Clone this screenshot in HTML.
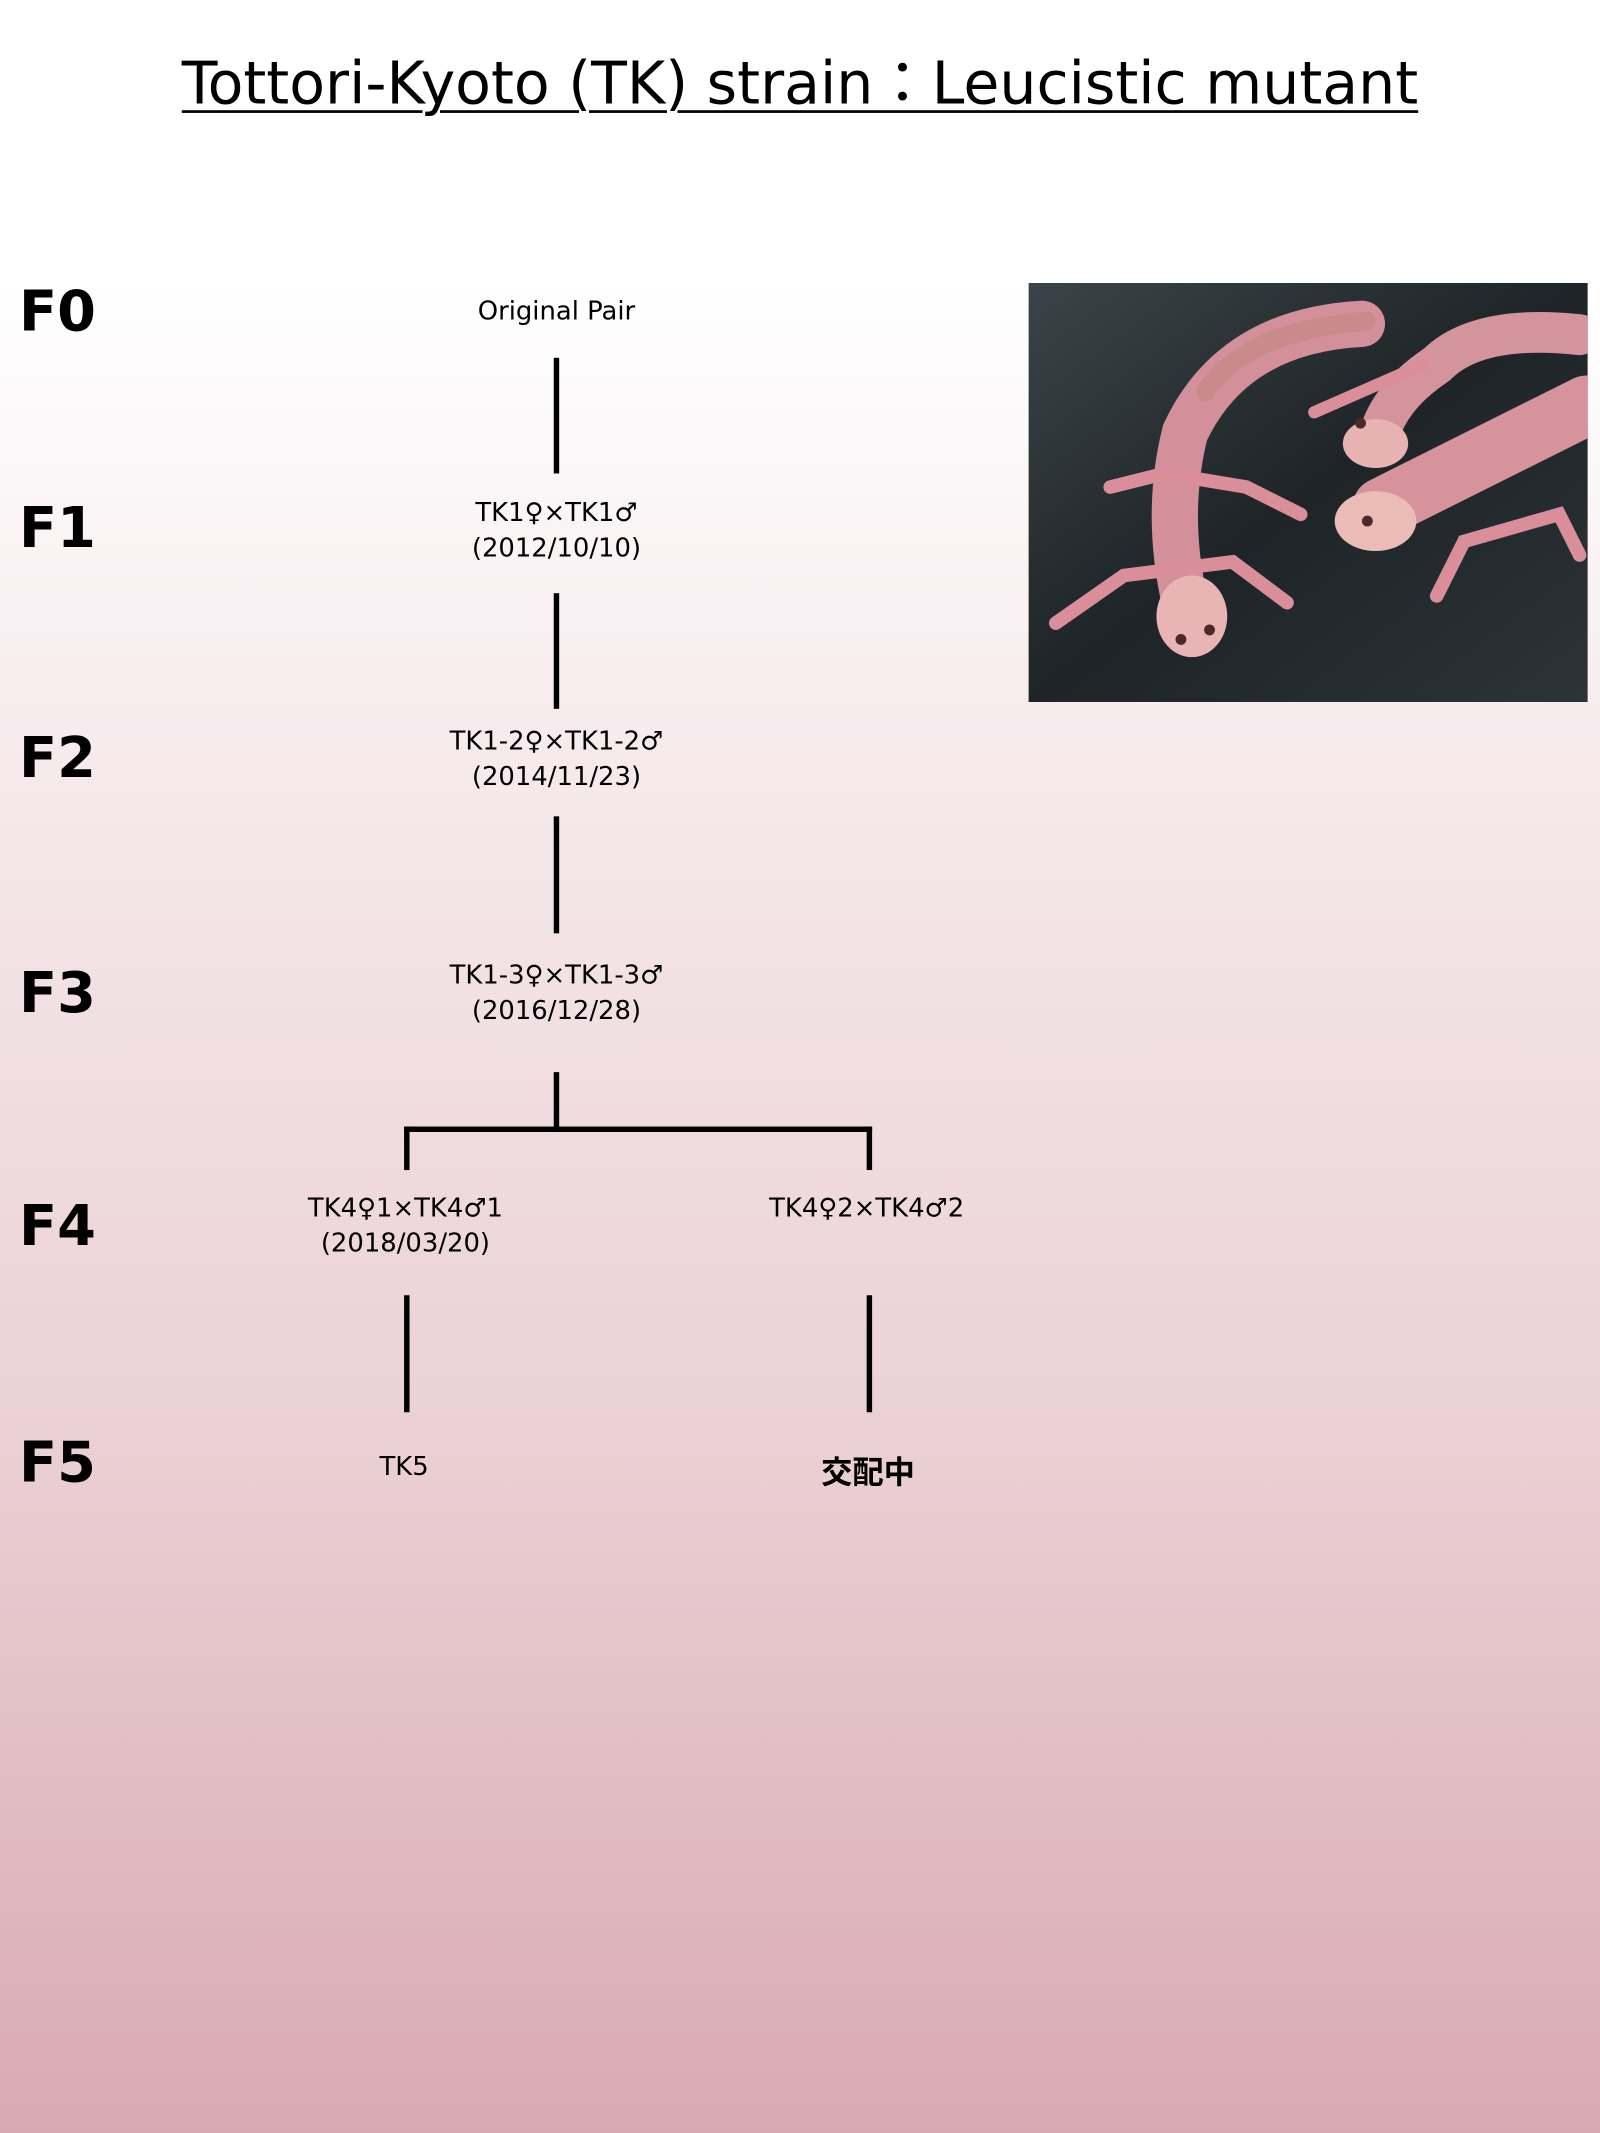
<!DOCTYPE html>
<html><head><meta charset="utf-8"><style>
html,body{margin:0;padding:0;}
body{width:1600px;height:2133px;overflow:hidden;background:linear-gradient(to bottom,#ffffff 0px,#ffffff 280px,#f3e4e7 900px,#ebd2d6 1400px,#d9a9b2 2133px);}
#w{position:absolute;left:0;top:0;width:1176px;height:1568px;transform:scale(1.36054);transform-origin:0 0;font-family:"DejaVu Sans","Liberation Sans","Noto Sans CJK JP",sans-serif;color:#000;}
.t{position:absolute;white-space:nowrap;transform:translate(-50%,-50%);text-align:center;font-size:19px;line-height:26px;}
.f{position:absolute;left:14px;font-weight:bold;font-size:41px;transform:translateY(-50%);font-family:"DejaVu Sans",sans-serif;}
.v{position:absolute;width:4px;background:#000;}
.h{position:absolute;height:4px;background:#000;}
</style></head><body><div id="w">
<div style="position:absolute;left:0;width:1176px;top:27px;text-align:center;"><span style="font-size:43px;text-decoration:underline;text-decoration-thickness:2px;text-underline-offset:5px;margin-left:0px;">Tottori-Kyoto (TK) strain：Leucistic mutant</span></div>
<div class="f" style="top:229px">F0</div>
<div class="f" style="top:388px">F1</div>
<div class="f" style="top:557px">F2</div>
<div class="f" style="top:730px">F3</div>
<div class="f" style="top:901px">F4</div>
<div class="f" style="top:1075px">F5</div>
<div class="t" style="left:409px;top:229px">Original Pair</div>
<div class="t" style="left:409px;top:390px">TK1♀×TK1♂<br>(2012/10/10)</div>
<div class="t" style="left:409px;top:558px">TK1-2♀×TK1-2♂<br>(2014/11/23)</div>
<div class="t" style="left:409px;top:730px">TK1-3♀×TK1-3♂<br>(2016/12/28)</div>
<div class="t" style="left:298px;top:901px">TK4♀1×TK4♂1<br>(2018/03/20)</div>
<div class="t" style="left:637px;top:888px">TK4♀2×TK4♂2</div>
<div class="t" style="left:297px;top:1078px">TK5</div>
<div class="t" style="left:638px;top:1083px;font-weight:bold;font-size:23px;">交配中</div>
<div class="v" style="left:407px;top:263px;height:85px"></div>
<div class="v" style="left:407px;top:436px;height:85px"></div>
<div class="v" style="left:407px;top:600px;height:86px"></div>
<div class="v" style="left:407px;top:788px;height:44px"></div>
<div class="h" style="left:297px;top:828px;width:344px"></div>
<div class="v" style="left:297px;top:828px;height:32px"></div>
<div class="v" style="left:637px;top:828px;height:32px"></div>
<div class="v" style="left:297px;top:952px;height:86px"></div>
<div class="v" style="left:637px;top:952px;height:86px"></div>
<svg style="position:absolute;left:756px;top:208px" width="411" height="308" viewBox="0 0 411 308">
<defs><linearGradient id="bg" x1="0" y1="0" x2="1" y2="1"><stop offset="0" stop-color="#3a4449"/><stop offset="0.5" stop-color="#1e2427"/><stop offset="1" stop-color="#2c3438"/></linearGradient></defs>
<rect width="411" height="308" fill="url(#bg)"/>
<g fill="none" stroke-linecap="round">
<path d="M245 30 Q150 35 115 110 Q100 170 115 235" stroke="#d4909a" stroke-width="34"/>
<path d="M248 28 Q160 35 130 80" stroke="#c98a8c" stroke-width="14"/>
<path d="M60 150 L100 140 L160 150 L200 170" stroke="#d98e9a" stroke-width="10"/>
<path d="M20 250 L70 215 L150 205 L190 235" stroke="#d98e9a" stroke-width="10"/>
<path d="M405 38 Q330 30 300 60 Q270 80 260 105" stroke="#d4949c" stroke-width="30"/>
<path d="M410 90 Q330 130 260 165" stroke="#d6939b" stroke-width="44"/>
<path d="M210 95 L290 60" stroke="#d98e9a" stroke-width="9"/>
<path d="M300 230 L320 190 L390 170 L405 200" stroke="#d98e9a" stroke-width="10"/>
</g>
<ellipse cx="120" cy="245" rx="26" ry="30" fill="#e8b4b4"/>
<ellipse cx="255" cy="118" rx="24" ry="18" fill="#e6b2b2"/>
<ellipse cx="255" cy="175" rx="30" ry="22" fill="#ebbcb6"/>
<circle cx="112" cy="262" r="4" fill="#4a2a2a"/><circle cx="133" cy="255" r="4" fill="#4a2a2a"/>
<circle cx="249" cy="175" r="4" fill="#4a2a2a"/><circle cx="244" cy="103" r="4" fill="#4a2a2a"/>
</svg>
</div></body></html>
